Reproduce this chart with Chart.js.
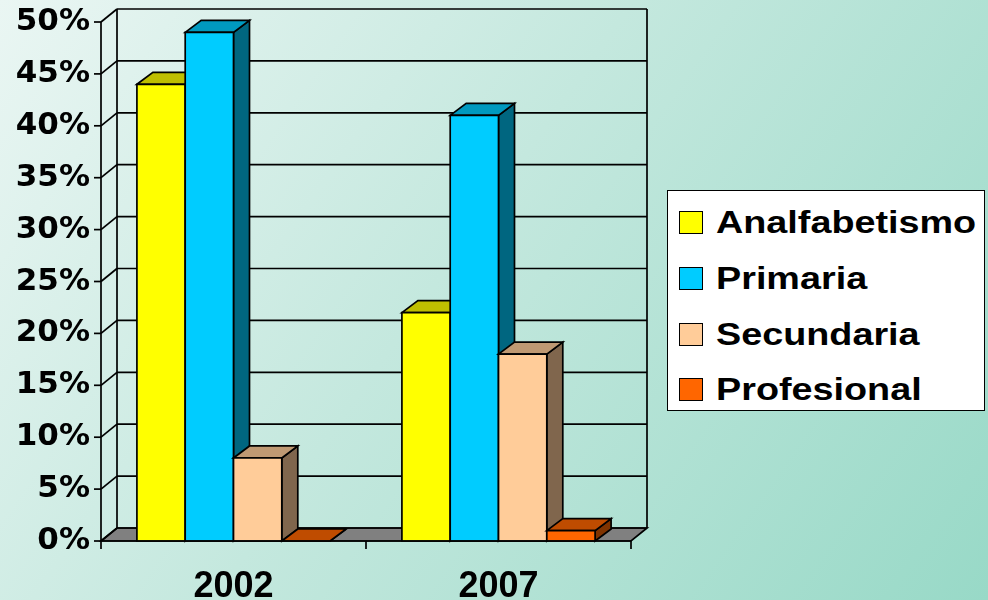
<!DOCTYPE html>
<html>
<head>
<meta charset="utf-8">
<script src="https://cdn.jsdelivr.net/npm/chart.js@4.4.1/dist/chart.umd.min.js"></script>
<style>
  body { margin: 0; }
  #wrap {
    position: relative; width: 988px; height: 600px; overflow: hidden;
    background: linear-gradient(125deg, #eaf6f3 0%, #c4e8de 45%, #98d9c7 100%);
  }
  #chart { position: absolute; left: 0; top: 0; }
  #legend {
    position: absolute; left: 667px; top: 190px; width: 318px; height: 221px;
    box-sizing: border-box; background: #fff; border: 1.5px solid #000;
  }
  .row { position: absolute; left: 0; height: 31px; }
  .sw { position: absolute; left: 11px; width: 24px; height: 23px; box-sizing: border-box; border: 1.5px solid #000; }
  .lbl {
    position: absolute; left: 48px; top: 0; white-space: nowrap;
    font: bold 32px "Liberation Sans", Arial, sans-serif; line-height: 31px; color: #000;
    transform: scaleX(1.18); transform-origin: left center;
  }
</style>
</head>
<body>
<div id="wrap">
  <canvas id="chart" width="988" height="600"></canvas>
  <div id="legend"></div>
</div>
<script>
const years = ['2002', '2007'];
const seriesNames = ['Analfabetismo', 'Primaria', 'Secundaria', 'Profesional'];
const analfabetismo = [44, 22];
const primaria = [49, 41];
const secundaria = [8, 18];
const profesional = [0, 1];
const yMax = 50;
const yStep = 5;

// front / top / side shades for the 3d look
const frontColors = ['#FFFF00', '#00CCFF', '#FFCC99', '#FF6600'];
const topColors = ['#BFBF00', '#0099BF', '#BF9973', '#BF4C00'];
const sideColors = ['#808000', '#006680', '#80664D', '#803300'];

const BAR_DX = 16, BAR_DY = 12;
const WALL_DX = 16, WALL_DY = 13;

function poly(ctx, pts, fill) {
  ctx.beginPath();
  ctx.moveTo(pts[0][0], pts[0][1]);
  for (let i = 1; i < pts.length; i++) ctx.lineTo(pts[i][0], pts[i][1]);
  ctx.closePath();
  if (fill) { ctx.fillStyle = fill; ctx.fill(); }
  ctx.stroke();
}

function line(ctx, x1, y1, x2, y2) {
  ctx.beginPath();
  ctx.moveTo(x1, y1);
  ctx.lineTo(x2, y2);
  ctx.stroke();
}

const box3d = {
  id: 'box3d',
  beforeDatasetsDraw(chart) {
    const { ctx, chartArea: a, scales: { y } } = chart;
    ctx.save();
    ctx.strokeStyle = '#000';
    ctx.lineWidth = 1.7;
    const y0 = y.getPixelForValue(0);
    // floor
    poly(ctx, [[a.left, y0], [a.right, y0], [a.right + WALL_DX, y0 - WALL_DY], [a.left + WALL_DX, y0 - WALL_DY]], '#808080');
    // back wall grid + side wall diagonals + tick marks
    for (let v = 0; v <= yMax; v += yStep) {
      const py = y.getPixelForValue(v);
      line(ctx, a.left + WALL_DX, py - WALL_DY, a.right + WALL_DX, py - WALL_DY);
      line(ctx, a.left, py, a.left + WALL_DX, py - WALL_DY);
      line(ctx, a.left - 7, py, a.left, py);
    }
    const yt = y.getPixelForValue(yMax);
    line(ctx, a.left + WALL_DX, yt - WALL_DY, a.left + WALL_DX, y0 - WALL_DY);
    line(ctx, a.right + WALL_DX, yt - WALL_DY, a.right + WALL_DX, y0 - WALL_DY);
    line(ctx, a.left, yt, a.left, y0);
    ctx.restore();
  },
  afterDatasetsDraw(chart) {
    const { ctx, chartArea: a, scales: { x } } = chart;
    ctx.save();
    ctx.strokeStyle = '#000';
    ctx.lineWidth = 1.7;
    for (let i = 0; i < years.length; i++) {
      chart.data.datasets.forEach((ds, d) => {
        const el = chart.getDatasetMeta(d).data[i];
        const l = el.x - el.width / 2, r = el.x + el.width / 2;
        const t = el.y, b = el.base;
        poly(ctx, [[r, t], [r + BAR_DX, t - BAR_DY], [r + BAR_DX, b - BAR_DY], [r, b]], sideColors[d]);
        poly(ctx, [[l, t], [l + BAR_DX, t - BAR_DY], [r + BAR_DX, t - BAR_DY], [r, t]], topColors[d]);
        if (b - t > 1) poly(ctx, [[l, t], [r, t], [r, b], [l, b]], frontColors[d]);
      });
    }
    // x axis with category ticks
    line(ctx, a.left, a.bottom, a.right, a.bottom);
    const half = (x.getPixelForValue(1) - x.getPixelForValue(0)) / 2;
    for (let i = 0; i <= years.length; i++) {
      const px = x.getPixelForValue(i) - half;
      line(ctx, px, a.bottom, px, a.bottom + 8);
    }
    ctx.restore();
  }
};

const seriesValues = [analfabetismo, primaria, secundaria, profesional];

new Chart(document.getElementById('chart'), {
  type: 'bar',
  data: {
    labels: years,
    datasets: seriesNames.map((name, d) => ({
      label: name,
      data: seriesValues[d],
      backgroundColor: frontColors[d],
      borderColor: '#000',
      borderWidth: 1.5,
      categoryPercentage: 0.729,
      barPercentage: 1
    }))
  },
  options: {
    responsive: false,
    animation: false,
    layout: { padding: { left: 0, top: 22, right: 357, bottom: 0 } },
    plugins: { legend: { display: false }, tooltip: { enabled: false } },
    scales: {
      x: {
        grid: { display: false },
        border: { display: false },
        ticks: { color: '#000', padding: 16, font: { family: 'Liberation Sans', weight: 'bold', size: 36 } },
        afterFit: s => { s.height = 59; s.paddingLeft = 0; s.paddingRight = 0; }
      },
      y: {
        min: 0,
        max: yMax,
        grid: { display: false },
        border: { display: false },
        ticks: {
          stepSize: yStep,
          color: '#000',
          padding: 3,
          font: { family: 'DejaVu Sans', weight: 'bold', size: 31 },
          callback: v => v + '%'
        },
        afterFit: s => { s.width = 101; s.paddingTop = 0; s.paddingBottom = 0; }
      }
    }
  },
  plugins: [box3d]
});

// legend box
const legend = document.getElementById('legend');
const rowCenters = [31.5, 87, 143, 198];
seriesNames.forEach((name, d) => {
  const row = document.createElement('div');
  row.className = 'row';
  row.style.top = (rowCenters[d] - 15.5) + 'px';
  const sw = document.createElement('div');
  sw.className = 'sw';
  sw.style.top = '4px';
  sw.style.background = frontColors[d];
  const lbl = document.createElement('span');
  lbl.className = 'lbl';
  lbl.textContent = name;
  row.appendChild(sw);
  row.appendChild(lbl);
  legend.appendChild(row);
});
</script>
</body>
</html>
